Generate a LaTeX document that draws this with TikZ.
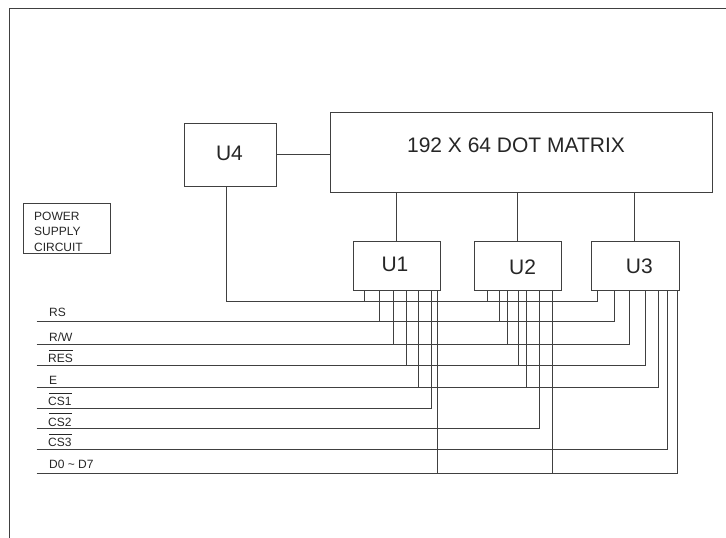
\documentclass[tikz,border=0pt]{standalone}
\usepackage{fontspec}
\setmainfont{Liberation Sans}
\usetikzlibrary{positioning}
\definecolor{linecol}{gray}{0.25}
\newcommand{\barsig}[1]{$\overline{\mbox{\rule{0pt}{11pt}\kern-1pt#1\kern0.5pt}}$}
\tikzset{
  wire/.style={draw=linecol,line width=1pt},
  chipbox/.style={wire,inner sep=0pt,outer sep=0pt,minimum width=87.3pt,minimum height=49pt},
  bigtext/.style={text=black!85,font=\fontsize{21}{25}\selectfont},
  smalltext/.style={text=black!85,font=\fontsize{12}{15.5}\selectfont,inner sep=0pt}
}
\begin{document}
\begin{tikzpicture}[x=1pt,y=-1pt]
  \useasboundingbox (0,0) rectangle (726,538);
  \coordinate (framebl) at (9.5,538);
  \coordinate (frametl) at (9.5,8);
  \coordinate (frametr) at (726,8);
  \draw[wire] (framebl) -- (frametl) -- (frametr);

  \node[wire,inner sep=0pt,outer sep=0pt,minimum width=87.3pt,minimum height=49.7pt,
    label={[name=pwrtxt,smalltext,align=left,shift={(-8.8,3.4)}]center:POWER\\SUPPLY\\CIRCUIT}] (pwr) at (67.3,228.2) {};
  \node[chipbox,minimum width=92.3pt,minimum height=63.3pt,
    label={[name=u4txt,bigtext,shift={(-0.7,-1.7)}]center:U4}] (u4) at (230.2,154.7) {};
  \node[chipbox,minimum width=382pt,minimum height=80.7pt,
    label={[name=matrixtxt,bigtext,shift={(-5,-6.7)}]center:192 X 64 DOT MATRIX}] (matrix) at (521,152.4) {};
  \node[chipbox,label={[name=u1txt,bigtext,shift={(-2.3,-2)}]center:U1}] (u1) at (397.3,266.2) {};
  \node[chipbox,right=33.3pt of u1,label={[name=u2txt,bigtext,shift={(4.7,1.3)}]center:U2}] (u2) {};
  \node[chipbox,right=30.4pt of u2,label={[name=u3txt,bigtext,shift={(3.7,0)}]center:U3}] (u3) {};

  \draw[wire] (u4.east) -- (u4.east -| matrix.west);
  \draw[wire] ([xshift=-0.6pt]u1.north) -- ([xshift=-0.6pt]u1.north |- matrix.south);
  \draw[wire] ([xshift=-0.8pt]u2.north) -- ([xshift=-0.8pt]u2.north |- matrix.south);
  \draw[wire] ([xshift=-1pt]u3.north) -- ([xshift=-1pt]u3.north |- matrix.south);

  \foreach \pin/\x in {u1p1/364.7,u1p2/379,u1p3/393.3,u1p4/406,u1p5/418.7,u1p6/431.3,u1p7/437.7,
                       u2p1/487,u2p2/499.7,u2p3/507.7,u2p4/518.7,u2p5/526.7,u2p6/539.3,u2p7/552,
                       u3p1/597.7,u3p2/614,u3p3/629.7,u3p4/645.7,u3p5/658.3,u3p6/667.7,u3p7/677.3}
    \coordinate (\pin) at (\x,290.7);

  \coordinate (u4bus) at (226.7,301.7);
  \draw[wire] (u4bus |- u4.south) -- (u4bus) -| (u3p1);
  \draw[wire] (u1p1) -- (u1p1 |- u4bus);
  \draw[wire] (u2p1) -- (u2p1 |- u4bus);

  \foreach \sig/\ypos/\lift/\txt/\endpin in {
      rs/321/4.3/RS/u3p2,
      rw/344.5/2.7/{R/W}/u3p3,
      res/365.2/2.4/{\barsig{RES}}/u3p4,
      en/387.3/3.3/E/u3p5,
      cs1/408.2/2.6/{\barsig{CS1}}/u1p6,
      cs2/428.7/2.7/{\barsig{CS2}}/u2p6,
      cs3/449.2/2.4/{\barsig{CS3}}/u3p6,
      data/473/4.3/{D0 \textasciitilde{} D7}/u3p7} {
    \coordinate (\sig) at (36.7,\ypos);
    \node[smalltext,anchor=base west] (\sig txt) at (49,\ypos-\lift) {\txt};
    \draw[wire] (\sig) -| (\endpin);
  }

  \foreach \pin/\sig in {u1p2/rs,u2p2/rs,u1p3/rw,u2p3/rw,u1p4/res,u2p4/res,u1p5/en,u2p5/en,u1p7/data,u2p7/data}
    \draw[wire] (\pin) -- (\pin |- \sig);
\end{tikzpicture}
\end{document}
